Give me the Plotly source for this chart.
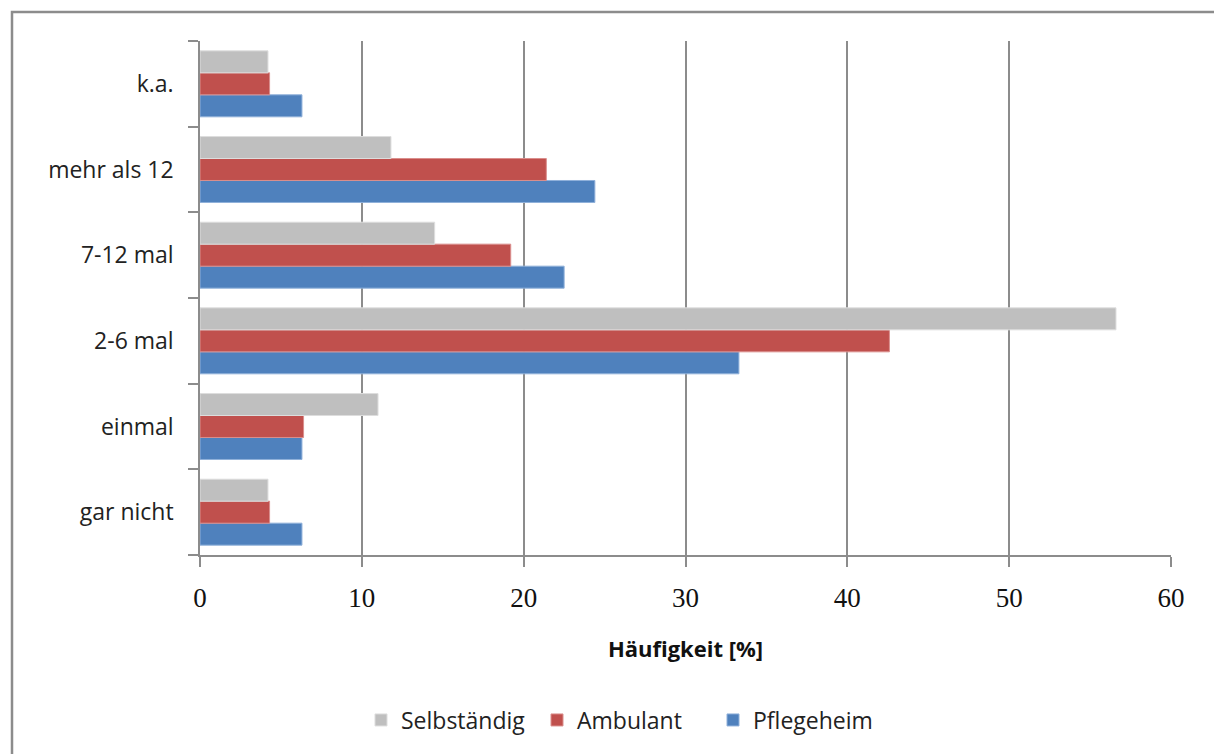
import plotly.graph_objects as go

# Kategorien (von unten nach oben) und Anteile in Prozent
kategorien = ["gar nicht", "einmal", "2-6 mal", "7-12 mal", "mehr als 12", "k.a."]
selbstaendig = [4.2, 11.0, 56.6, 14.5, 11.8, 4.2]
ambulant = [4.3, 6.4, 42.6, 19.2, 21.4, 4.3]
pflegeheim = [6.3, 6.3, 33.3, 22.5, 24.4, 6.3]
x_ticks = [0, 10, 20, 30, 40, 50, 60]

serien = [
    ("Pflegeheim", pflegeheim, "#4F81BD", "#8FB0DA"),
    ("Ambulant", ambulant, "#C0504D", "#DA8E8C"),
    ("Selbständig", selbstaendig, "#BFBFBF", "#DDDDDD"),
]

fig = go.Figure()
for name, vals, col, edge in serien:
    fig.add_trace(go.Bar(
        y=kategorien, x=vals, name=name, orientation="h",
        marker=dict(color=col, line=dict(color=edge, width=1)),
    ))

# Plotbereich in Pixeln: x 200..1171, y 41..555
L, R, T, B = 200, 43, 41, 199
W, H = 1214, 754
pw, ph = W - L - R, H - T - B

def px(x):
    return (x - L) / pw

def py(y):
    return (H - B - y) / ph

fig.update_layout(
    width=W, height=H,
    margin=dict(l=L, r=R, t=T, b=B),
    paper_bgcolor="white", plot_bgcolor="white",
    barmode="group", bargap=0.23, bargroupgap=0,
    showlegend=True,
    legend=dict(
        orientation="h", traceorder="reversed",
        x=px(625), xanchor="center", y=py(720), yanchor="middle",
        font=dict(family="Open Sans", size=23, color="#222"),
        itemwidth=30, entrywidth=131, entrywidthmode="pixels",
        bgcolor="rgba(0,0,0,0)",
    ),
    xaxis=dict(
        range=[0, 60], tickvals=x_ticks, ticktext=[str(v) for v in x_ticks],
        showgrid=True, gridcolor="#8C8C8C", gridwidth=1.5,
        zeroline=False, showline=True, linecolor="#8C8C8C", linewidth=1.5,
        ticks="outside", ticklen=10, tickcolor="#8C8C8C", tickwidth=1.5,
        ticklabelstandoff=8,
        tickfont=dict(family="Liberation Serif", size=27, color="#111"),
        title=dict(text="<b>Häufigkeit [%]</b>", standoff=29,
                   font=dict(family="Open Sans", size=22, color="#111")),
    ),
    yaxis=dict(
        showgrid=False, zeroline=False, showline=True,
        linecolor="#8C8C8C", linewidth=1.5,
        ticks="outside", ticklen=10, tickcolor="#8C8C8C", tickwidth=1.5,
        tickson="boundaries", ticklabelstandoff=20,
        tickfont=dict(family="Open Sans", size=23, color="#222"),
    ),
    shapes=[dict(
        type="rect", xref="paper", yref="paper",
        x0=px(12), x1=px(1220), y0=py(760), y1=py(12),
        line=dict(color="#8C8C8C", width=2.5), layer="below",
    )],
)

fig.write_html("out.html")
